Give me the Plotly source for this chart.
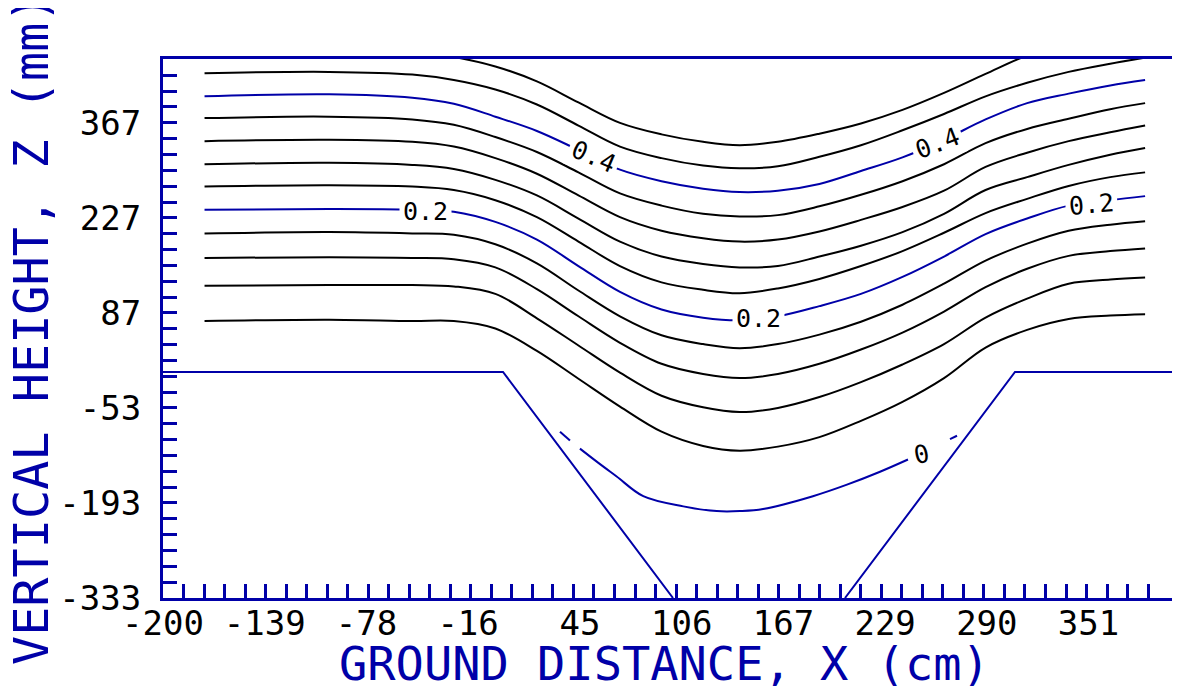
import plotly.graph_objects as go

BLUE = "#0000A8"
MONO = "DejaVu Sans Mono"

# ---- data ----
X = [-175, -100, -50, -25, 0, 25, 50, 75, 100, 125, 147, 170, 195, 220, 245, 270, 295, 320, 345, 370, 391]

z_048 = [474, 477, 472, 464, 450, 428, 397, 367, 350, 339, 334, 339, 351, 366, 386, 411, 439, 466, 482, 492, 498]
z_044 = [440, 442, 438, 430, 416, 394, 363, 332, 315, 304, 300, 303, 317, 334, 356, 380, 406, 426, 442, 454, 463]
z_040 = [406, 409, 404, 395, 376, 355, 327, 298, 281, 270, 265, 267, 277, 296, 316, 342, 372, 396, 410, 422, 430]
z_036 = [374, 376, 372, 364, 346, 324, 294, 263, 245, 233, 229, 231, 244, 261, 281, 306, 337, 358, 373, 387, 396]
z_032 = [340, 342, 339, 332, 315, 292, 260, 228, 208, 197, 192, 195, 207, 224, 243, 267, 302, 323, 340, 353, 363]
z_028 = [306, 308, 305, 299, 283, 260, 226, 192, 170, 159, 154, 156, 170, 186, 206, 233, 268, 287, 305, 320, 330]
z_024 = [273, 275, 273, 268, 253, 228, 192, 156, 132, 121, 116, 123, 137, 156, 178, 205, 234, 255, 274, 287, 294]
z_020 = [239, 240, 239, 236, 221, 195, 156, 118, 92, 80, 76, 82, 97, 115, 140, 170, 203, 226, 245, 253, 259]
z_016 = [204, 206, 204, 202, 188, 160, 120, 82, 54, 41, 35, 41, 55, 74, 99, 130, 164, 189, 208, 217, 222]
z_012 = [168, 169, 168, 166, 154, 122, 82, 43, 12, -3, -9, -3, 12, 33, 58, 89, 125, 152, 171, 178, 182]
z_008 = [127, 128, 128, 126, 115, 79, 39, -1, -35, -52, -59, -53, -37, -15, 11, 41, 80, 108, 130, 136, 139]
z_004 = [75, 77, 75, 75, 64, 31, -10, -51, -88, -109, -116, -110, -96, -72, -44, -9, 36, 62, 78, 83, 85]

# zero contour inside the trench (gaps where the original left it open)
x_000 = [38.9, 44.9, None, 50.9, 62.0, 73.0, 89.0, 113.1, 133.2, 147.2, 161.1, 191.1, 211.6, 231.5, 248.3, None, 273.6, 277.8]
z_000 = [-88, -101, None, -113, -134, -154, -183, -198, -205, -205, -202, -183, -166, -147, -129, None, -99, -94]

# ground surface / trench outline
ground_left_x = [-200, 4.6, 106.9]
ground_left_z = [0, 0, -333]
ground_right_x = [210.4, 312.7, 412]
ground_right_z = [-333, 0, 0]

# contour labels
label_text = ["0.2", "0.4", "0.4", "0.2", "0.2", "0"]
label_x = [-42.3, 58.8, 265.8, 158.3, 358.7, 256.4]
label_z = [236, 317, 336, 79, 246, -122]
label_angle = [0, 23, -21, 0, -5, -12]

# tick labels
x_tick_vals = [-200, -138.8, -77.6, -16.4, 44.8, 106, 167.2, 228.4, 289.6, 350.8]
x_tick_text = ["-200", "-139", "-78", "-16", "\u00a045", "\u00a0106", "\u00a0167", "\u00a0229", "\u00a0290", "\u00a0351"]
y_tick_vals = [-333, -193, -53, 87, 227, 367]
y_tick_text = ["-333", "-193", "-53", "87", "227", "367"]

# small tick marks along the ground-distance axis (original spacing, ends short of the edge)
x_minor_ticks = [-200 + 12.35 * k for k in range(1, 49)]

contours = [
    (z_048, "black"), (z_044, "black"), (z_040, BLUE), (z_036, "black"),
    (z_032, "black"), (z_028, "black"), (z_024, "black"), (z_020, BLUE),
    (z_016, "black"), (z_012, "black"), (z_008, "black"), (z_004, "black"),
]

fig = go.Figure()

for zvals, col in contours:
    fig.add_trace(go.Scatter(
        x=X, y=zvals, mode="lines",
        line=dict(color=col, width=2, shape="spline", smoothing=1.0),
        hoverinfo="skip", showlegend=False))

fig.add_trace(go.Scatter(
    x=x_000, y=z_000, mode="lines", connectgaps=False,
    line=dict(color=BLUE, width=2, shape="spline", smoothing=1.0),
    hoverinfo="skip", showlegend=False))

for gx, gz in [(ground_left_x, ground_left_z), (ground_right_x, ground_right_z)]:
    fig.add_trace(go.Scatter(
        x=gx, y=gz, mode="lines", line=dict(color=BLUE, width=2),
        hoverinfo="skip", showlegend=False))

annotations = []
for t, lx, lz, ang in zip(label_text, label_x, label_z, label_angle):
    annotations.append(dict(
        x=lx, y=lz, xref="x", yref="y", text=t, showarrow=False,
        textangle=ang, bgcolor="white", borderpad=3,
        font=dict(family=MONO, size=25, color="black")))

annotations.append(dict(
    x=0.4936, y=-0.1218, xref="paper", yref="paper", xanchor="center", yanchor="middle",
    text="GROUND DISTANCE, X (cm)", showarrow=False,
    font=dict(family=MONO, size=47, color=BLUE)))
annotations.append(dict(
    x=-0.1298, y=0.499, xref="paper", yref="paper", xanchor="center", yanchor="middle",
    text="VERTICAL HEIGHT, Z (mm)", showarrow=False, textangle=-90,
    font=dict(family=MONO, size=48.5, color=BLUE)))

# the page body adds an 8px offset; margins compensate so the plot box lands where the reference has it
fig.update_layout(
    width=1180, height=686,
    margin=dict(l=155, r=8, t=51, b=96, autoexpand=False),
    paper_bgcolor="white", plot_bgcolor="white",
    showlegend=False,
    annotations=annotations,
    xaxis=dict(
        range=[-200, 412], showline=True, linecolor=BLUE, linewidth=3, mirror=True,
        showgrid=False, zeroline=False, ticks="", automargin=False,
        tickmode="array", tickvals=x_tick_vals, ticktext=x_tick_text,
        tickfont=dict(family=MONO, size=34, color="black"),
        ticklabelstandoff=-7,
        minor=dict(ticks="inside", tickmode="array", tickvals=x_minor_ticks,
                   ticklen=14, tickwidth=3, tickcolor=BLUE, showgrid=False),
    ),
    yaxis=dict(
        range=[-333, 461], showline=True, linecolor=BLUE, linewidth=3,
        showgrid=False, zeroline=False, automargin=False,
        ticks="inside", ticklen=14, tickwidth=3, tickcolor=BLUE,
        tickmode="array", tickvals=y_tick_vals, ticktext=y_tick_text,
        tickfont=dict(family=MONO, size=34, color="black"),
        ticklabelstandoff=12,
        minor=dict(ticks="inside", tickmode="linear", tick0=-333, dtick=140 / 6,
                   ticklen=14, tickwidth=3, tickcolor=BLUE, showgrid=False),
    ),
)

fig.write_html("out.html", config={"displayModeBar": False})
